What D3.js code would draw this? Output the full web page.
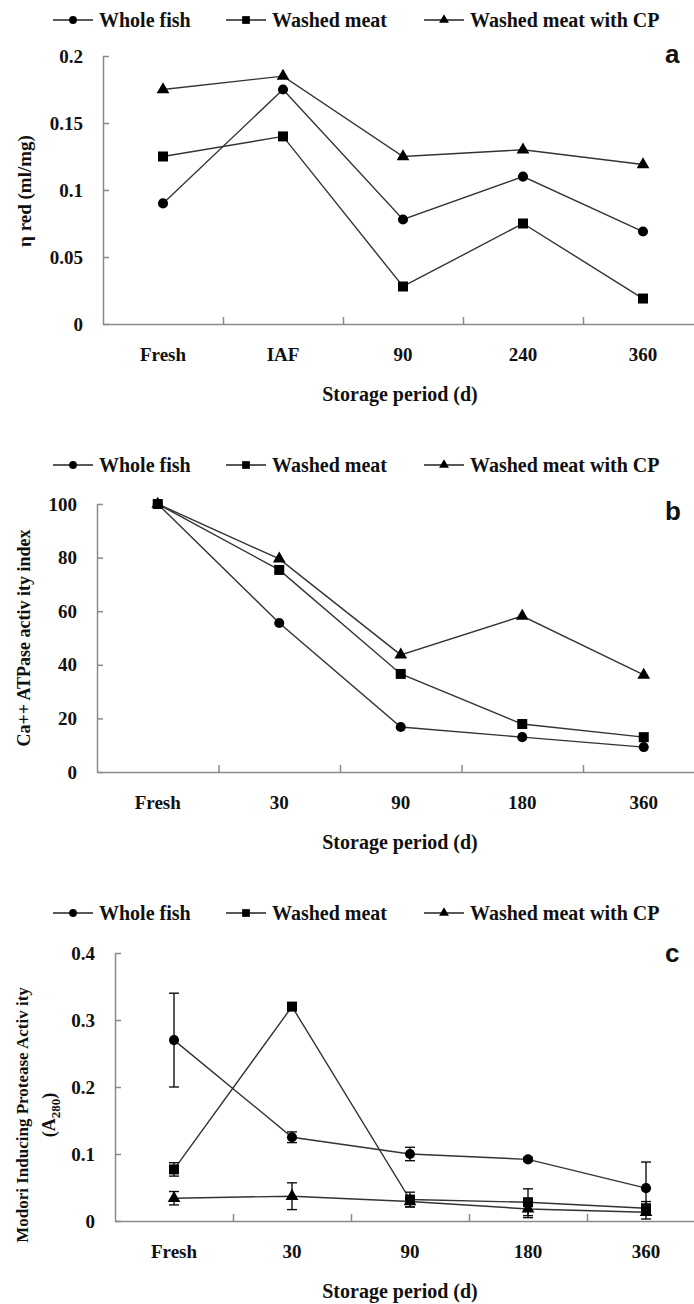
<!DOCTYPE html>
<html>
<head>
<meta charset="utf-8">
<script src="https://cdn.jsdelivr.net/npm/d3@7"></script>
<style>
  body { margin: 0; background: #fff; }
  svg { display: block; }
</style>
</head>
<body>
<div id="chart"></div>
<script>
// ---- data ----
const seriesNames = ["Whole fish", "Washed meat", "Washed meat with CP"];

// panel a: reduced viscosity
const catsA = ["Fresh", "IAF", "90", "240", "360"];
const wholeA = [0.090, 0.175, 0.078, 0.110, 0.069];
const washedA = [0.125, 0.140, 0.028, 0.075, 0.019];
const cpA = [0.175, 0.185, 0.125, 0.130, 0.119];
const ticksA = [0, 0.05, 0.1, 0.15, 0.2];

// panel b: Ca++ ATPase
const catsB = ["Fresh", "30", "90", "180", "360"];
const wholeB = [100, 55.6, 16.8, 13.0, 9.3];
const washedB = [100, 75.4, 36.6, 17.9, 13.0];
const cpB = [100, 79.5, 43.7, 58.2, 36.2];
const ticksB = [0, 20, 40, 60, 80, 100];

// panel c: modori inducing protease activity (with error bars)
const catsC = ["Fresh", "30", "90", "180", "360"];
const wholeC = [0.270, 0.125, 0.100, 0.092, 0.049];
const wholeErrC = [0.070, 0.008, 0.010, 0.003, 0.039];
const washedC = [0.077, 0.320, 0.032, 0.028, 0.019];
const washedErrC = [0.010, 0.005, 0.011, 0.020, 0.010];
const cpC = [0.034, 0.037, 0.029, 0.018, 0.013];
const cpErrC = [0.010, 0.020, 0.008, 0.013, 0.010];
const ticksC = [0, 0.1, 0.2, 0.3, 0.4];

const W = 694, H = 1304;
const serif = "'Liberation Serif', 'Times New Roman', serif";

const svg = d3.select("#chart").append("svg")
    .attr("width", W)
    .attr("height", H);

const shapes = [d3.symbolCircle, d3.symbolSquare, d3.symbolTriangle];
const shapeSize = [80, 100, 70];

function drawPanel(p) {
    const g = svg.append("g");

    const x = d3.scaleBand()
        .domain(p.cats)
        .range([p.x0, p.x0 + p.bw * p.cats.length])
        .paddingInner(0).paddingOuter(0);

    const y = d3.scaleLinear()
        .domain([0, d3.max(p.ticks)])
        .range([p.bottom, p.top]);

    // legend
    const lg = g.append("g");
    const legX = [53, 226, 424];
    const legText = [99, 272, 470];
    seriesNames.forEach((name, i) => {
        lg.append("line")
            .attr("x1", legX[i]).attr("x2", legX[i] + 40)
            .attr("y1", p.legY).attr("y2", p.legY)
            .attr("stroke", "#222").attr("stroke-width", 1.4);
        lg.append("path")
            .attr("d", d3.symbol().type(shapes[i]).size(shapeSize[i] * 0.6)())
            .attr("transform", `translate(${legX[i] + 20},${p.legY})`)
            .attr("fill", "#000");
        lg.append("text")
            .attr("x", legText[i]).attr("y", p.legY + 7)
            .style("font-family", serif)
            .style("font-weight", "bold")
            .style("font-size", "20px")
            .attr("fill", "#111")
            .text(name);
    });

    // y axis (ticks point inward)
    const yAxis = d3.axisLeft(y).tickValues(p.ticks)
        .tickSizeInner(-6).tickSizeOuter(0).tickPadding(20)
        .tickFormat(d => p.fmt(d));
    g.append("g")
        .attr("transform", `translate(${p.x0},0)`)
        .call(yAxis)
        .call(a => a.selectAll("path, line").attr("stroke", "#8a8a8a").attr("stroke-width", 1.5))
        .call(a => a.selectAll("text")
            .style("font-family", serif).style("font-weight", "bold")
            .style("font-size", "19px").attr("fill", "#111"));

    // x axis: boundary ticks
    const xb = d3.scaleLinear().domain([0, p.cats.length]).range(x.range());
    g.append("g")
        .attr("transform", `translate(0,${p.bottom})`)
        .call(d3.axisBottom(xb).tickValues(d3.range(1, p.cats.length)).tickFormat("")
            .tickSizeInner(-7).tickSizeOuter(0))
        .call(a => a.selectAll("path, line").attr("stroke", "#8a8a8a").attr("stroke-width", 1.5));

    // x category labels
    g.append("g")
        .attr("transform", `translate(0,${p.bottom})`)
        .call(d3.axisBottom(x).tickSize(0).tickPadding(24))
        .call(a => a.select(".domain").remove())
        .call(a => a.selectAll("text")
            .style("font-family", serif).style("font-weight", "bold")
            .style("font-size", "19px").attr("fill", "#111"));

    // x axis title
    g.append("text")
        .attr("x", 400).attr("y", p.bottom + 77)
        .attr("text-anchor", "middle")
        .style("font-family", serif).style("font-weight", "bold")
        .style("font-size", "20px").attr("fill", "#111")
        .text("Storage period (d)");

    // y axis title
    const yt = g.append("text")
        .attr("transform", `translate(${p.ylabX},${p.ylabY}) rotate(-90)`)
        .attr("text-anchor", "middle")
        .style("font-family", serif).style("font-weight", "bold")
        .style("font-size", p.ylabSize + "px").attr("fill", "#111");
    yt.text(p.ylab);
    if (p.ylab2) {
        const y2 = g.append("text")
            .attr("transform", `translate(${p.ylabX + 27},${p.ylabY}) rotate(-90)`)
            .attr("text-anchor", "middle")
            .style("font-family", serif).style("font-weight", "bold")
            .style("font-size", "18px").attr("fill", "#111");
        y2.append("tspan").text("(A");
        y2.append("tspan").attr("dy", 5).style("font-size", "13px").text("280");
        y2.append("tspan").attr("dy", -5).text(")");
    }

    // panel letter
    g.append("text")
        .attr("x", 665).attr("y", p.letterY)
        .style("font-family", "'Liberation Sans', Arial, sans-serif")
        .style("font-weight", "bold").style("font-size", "26px")
        .attr("fill", "#111")
        .text(p.letter);

    const cx = d => x(d) + x.bandwidth() / 2;
    const line = d3.line()
        .x((d, i) => cx(p.cats[i]))
        .y(d => y(d));

    p.series.forEach((vals, si) => {
        const sg = g.append("g");
        sg.append("path")
            .datum(vals)
            .attr("d", line)
            .attr("fill", "none")
            .attr("stroke", "#333")
            .attr("stroke-width", 1.4);

        if (p.errs) {
            const errs = p.errs[si];
            vals.forEach((v, i) => {
                const xx = cx(p.cats[i]);
                const e = errs[i];
                sg.append("line")
                    .attr("x1", xx).attr("x2", xx)
                    .attr("y1", y(v + e)).attr("y2", y(Math.max(0, v - e)))
                    .attr("stroke", "#111").attr("stroke-width", 1.4);
                [v + e, Math.max(0, v - e)].forEach(ev => {
                    sg.append("line")
                        .attr("x1", xx - 5).attr("x2", xx + 5)
                        .attr("y1", y(ev)).attr("y2", y(ev))
                        .attr("stroke", "#111").attr("stroke-width", 1.4);
                });
            });
        }

        sg.selectAll(".pt")
            .data(vals)
            .enter().append("path")
            .attr("d", d3.symbol().type(shapes[si]).size(shapeSize[si]))
            .attr("transform", (d, i) => `translate(${cx(p.cats[i])},${y(d)})`)
            .attr("fill", "#000");
    });
}

drawPanel({
    cats: catsA, series: [wholeA, washedA, cpA], ticks: ticksA,
    fmt: d => d === 0 ? "0" : String(d),
    x0: 103, bw: 120, top: 56, bottom: 324, legY: 20,
    ylab: "η red (ml/mg)", ylabX: 31, ylabY: 191, ylabSize: 19,
    letter: "a", letterY: 63
});

drawPanel({
    cats: catsB, series: [wholeB, washedB, cpB], ticks: ticksB,
    fmt: d => String(d),
    x0: 97, bw: 121.5, top: 504, bottom: 772, legY: 465,
    ylab: "Ca++ ATPase activ ity index", ylabX: 30, ylabY: 638, ylabSize: 18,
    letter: "b", letterY: 520
});

drawPanel({
    cats: catsC, series: [wholeC, washedC, cpC], errs: [wholeErrC, washedErrC, cpErrC], ticks: ticksC,
    fmt: d => d === 0 ? "0" : String(d),
    x0: 115, bw: 118, top: 953, bottom: 1221, legY: 913,
    ylab: "Modori Inducing  Protease Activ ity", ylab2: true, ylabX: 28, ylabY: 1115, ylabSize: 17,
    letter: "c", letterY: 962
});
</script>
</body>
</html>
